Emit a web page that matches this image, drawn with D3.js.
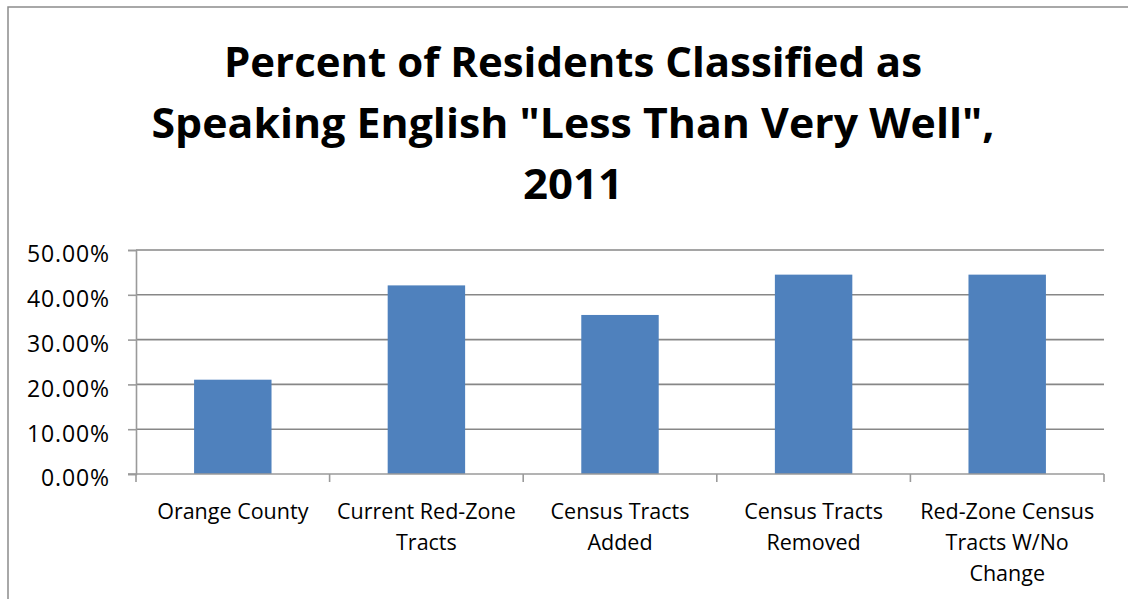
<!DOCTYPE html>
<html>
<head>
<meta charset="utf-8">
<script src="https://cdn.jsdelivr.net/npm/d3@7"></script>
<style>
  html, body { margin: 0; padding: 0; background: #fff; }
  svg { display: block; }
</style>
</head>
<body>
<svg id="chart" width="1128" height="599"></svg>
<script>
// Share of residents speaking English "less than very well", 2011
const categories = [
  "Orange County",
  "Current Red-Zone Tracts",
  "Census Tracts Added",
  "Census Tracts Removed",
  "Red-Zone Census Tracts W/No Change"
];
// wrapped lines for each category label
const categoryLines = [
  ["Orange County"],
  ["Current Red-Zone", "Tracts"],
  ["Census Tracts", "Added"],
  ["Census Tracts", "Removed"],
  ["Red-Zone Census", "Tracts W/No", "Change"]
];
const values = [0.2105, 0.421, 0.355, 0.445, 0.445];
const yTicks = [0, 0.1, 0.2, 0.3, 0.4, 0.5];
const titleLines = [
  "Percent of Residents Classified as",
  "Speaking English \"Less Than Very Well\",",
  "2011"
];

const svg = d3.select("#chart");

// chart frame
svg.append("rect")
  .attr("x", 8).attr("y", 7)
  .attr("width", 1140).attr("height", 620)
  .attr("fill", "#fff")
  .attr("stroke", "#8c8c8c")
  .attr("stroke-width", 1.5);

// title
const titleWidths = [698, 843, 100];
const titleBase = [76.5, 137.5, 198.5];
svg.append("g")
  .selectAll("text")
  .data(titleLines)
  .join("text")
  .attr("x", 573)
  .attr("y", (d, i) => titleBase[i])
  .attr("text-anchor", "middle")
  .attr("textLength", (d, i) => titleWidths[i])
  .attr("lengthAdjust", "spacingAndGlyphs")
  .style("font-family", "'Open Sans', sans-serif")
  .style("font-weight", "700")
  .style("font-size", "42px")
  .attr("fill", "#000")
  .text(d => d);

// plot area
const plot = { left: 136, right: 1104, top: 250, bottom: 474 };

const x = d3.scaleBand()
  .domain(categories)
  .range([plot.left, plot.right])
  .paddingInner(0.6)
  .paddingOuter(0.3);

const y = d3.scaleLinear()
  .domain([0, 0.5])
  .range([plot.bottom, plot.top]);

// horizontal gridlines
svg.append("g")
  .selectAll("line")
  .data(yTicks.filter(t => t > 0))
  .join("line")
  .attr("x1", plot.left).attr("x2", plot.right)
  .attr("y1", d => y(d)).attr("y2", d => y(d))
  .attr("stroke", "#878787")
  .attr("stroke-width", 1.6);

// bars
svg.append("g")
  .selectAll("rect")
  .data(values)
  .join("rect")
  .attr("x", (d, i) => x(categories[i]))
  .attr("width", x.bandwidth())
  .attr("y", d => y(d))
  .attr("height", d => y(0) - y(d))
  .attr("fill", "#4F81BD");

// y axis
const yAxis = d3.axisLeft(y)
  .tickValues(yTicks)
  .tickSize(8)
  .tickFormat(d3.format(".2%"));
const gy = svg.append("g")
  .attr("transform", `translate(${plot.left},0)`)
  .call(yAxis);
gy.select(".domain").attr("stroke", "#9a9a9a").attr("stroke-width", 1.6);
gy.selectAll(".tick line").attr("stroke", "#9a9a9a").attr("stroke-width", 1.6);
gy.selectAll(".tick text")
  .attr("x", -26)
  .attr("dy", "0.52em")
  .attr("fill", "#000")
  .style("font-family", "'Open Sans', sans-serif")
  .style("font-size", "23px")
  .style("letter-spacing", "0.9px");

// x axis with tick marks at category boundaries
const step = x.step();
const boundaries = d3.range(categories.length + 1).map(i => plot.left + i * step);
const gx = svg.append("g");
gx.append("line")
  .attr("x1", plot.left - 8).attr("x2", plot.right)
  .attr("y1", plot.bottom).attr("y2", plot.bottom)
  .attr("stroke", "#9a9a9a").attr("stroke-width", 1.6);
gx.selectAll("line.tk")
  .data(boundaries)
  .join("line")
  .attr("class", "tk")
  .attr("x1", d => d).attr("x2", d => d)
  .attr("y1", plot.bottom).attr("y2", plot.bottom + 8)
  .attr("stroke", "#9a9a9a").attr("stroke-width", 1.6);

// category labels
const lab = svg.append("g")
  .selectAll("text")
  .data(categories)
  .join("text")
  .attr("text-anchor", "middle")
  .attr("fill", "#000")
  .style("font-family", "'Open Sans', sans-serif")
  .style("font-size", "21.5px");
lab.each(function (d, i) {
  const cx = x(d) + x.bandwidth() / 2;
  d3.select(this).selectAll("tspan")
    .data(categoryLines[i])
    .join("tspan")
    .attr("x", cx)
    .attr("y", (t, j) => 519 + j * 31)
    .text(t => t);
});
</script>
</body>
</html>
